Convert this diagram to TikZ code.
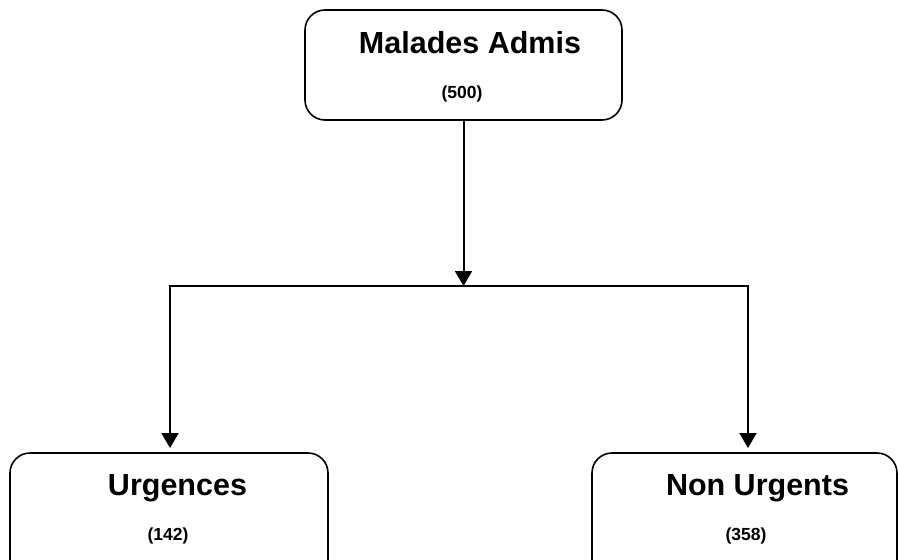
\documentclass[tikz,border=0pt]{standalone}
\usepackage{fontspec}
\setmainfont{Liberation Sans}
\usetikzlibrary{arrows.meta,calc}
\begin{document}
\begin{tikzpicture}[x=1pt,y=-1pt,
  box/.style={draw, line width=1.6pt, rounded corners=20pt, inner sep=0pt},
  title/.style={font=\bfseries\fontsize{30.5}{32}\selectfont, anchor=base, inner sep=0pt},
  count/.style={font=\bfseries\fontsize{17.5}{19}\selectfont, anchor=base, inner sep=0pt},
  link/.style={line width=2pt},
  arrowlink/.style={link, -{Triangle[length=15pt,width=17pt]}}]
\useasboundingbox (0,0) rectangle (898,560);
\clip (0,0) rectangle (898,560);
\fill[white] (0,0) rectangle (898,560);
\node[box, minimum width=317pt, minimum height=110pt] (top) at (463.5,65) {};
\node[box, minimum width=318pt, minimum height=150pt] (left) at (169,528) {};
\node[box, minimum width=305pt, minimum height=150pt] (right) at (744.5,528) {};
\node[title] (t1) at (470,53) {Malades Admis};
\node[count] (c1) at (462,98) {(500)};
\node[title] (t2) at (177.5,495) {Urgences};
\node[count] (c2) at (168,540) {(142)};
\node[title] (t3) at (757.5,495) {Non Urgents};
\node[count] (c3) at (746,540) {(358)};
\coordinate (j) at (463.5,286);
\coordinate (lt) at (170,448);
\coordinate (rt) at (748,448);
\draw[arrowlink] (top.south) -- (j);
\draw[arrowlink] (j) -| (lt);
\draw[arrowlink] (j) -| (rt);
\end{tikzpicture}
\end{document}
